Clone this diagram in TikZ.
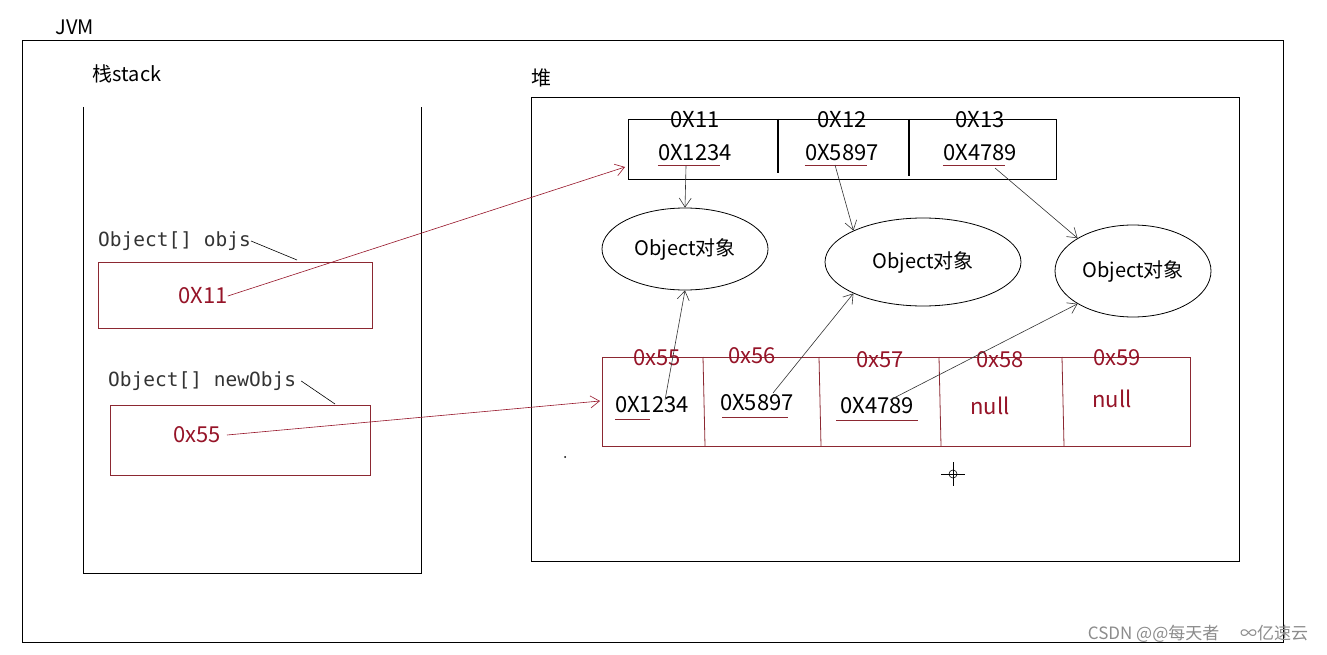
\documentclass[tikz,border=0pt]{standalone}
\usepackage{fontspec}
\setmainfont{Noto Sans CJK SC}
\newfontfamily\codefont{DejaVu Sans Mono}
\usetikzlibrary{arrows.meta,shapes.geometric}
\definecolor{darkred}{RGB}{150,20,40}
\definecolor{boxred}{RGB}{140,40,50}
\begin{document}
\begin{tikzpicture}[x=1pt,y=-1pt,
  txt/.style={inner sep=0pt,font=\fontsize{22}{26}\selectfont},
  red txt/.style={txt,text=darkred},
  code/.style={inner sep=0pt,anchor=west,font=\codefont\fontsize{19.5}{22}\selectfont,text=black!80},
  obj/.style={draw,ellipse,line width=0.8pt,font=\fontsize{20}{24}\selectfont},
  ptr/.style={-{Straight Barb[length=9pt,width=12pt]},line width=0.6pt},
  ul/.style={boxred,line width=0.8pt}]
\useasboundingbox (0,0) rectangle (1327,655);
\fill[white] (0,0) rectangle (1327,655);
%JVM frame
\draw[line width=0.8pt] (22,40) rectangle (1283,642);
\node[txt,font=\fontsize{20}{24}\selectfont] (jvm) at (75,27) {JVM};
%stack
\node[txt,font=\fontsize{20}{24}\selectfont] (stacklbl) at (127,74) {栈stack};
\draw[line width=0.8pt] (83,107) -- (83,573) -- (421,573) -- (421,107);
\draw[boxred,line width=0.9pt] (98,262) rectangle (372,328);
\draw[boxred,line width=0.9pt] (110,405) rectangle (370,475);
\node[code] (objs) at (98,241) {Object[] objs};
\node[code] (newobjs) at (108,381) {Object[] newObjs};
\draw[line width=0.6pt] (objs.east) -- (297,260);
\draw[line width=0.6pt] (newobjs.east) ++(5,0) -- (335,404);
\node[red txt] (p1) at (203,296) {0X11};
\node[red txt] (p2) at (197,435) {0x55};
%heap
\node[txt,font=\fontsize{20}{24}\selectfont] (heaplbl) at (541,78) {堆};
\draw[line width=0.8pt] (531,97) rectangle (1239,561);
%objs array
\draw[line width=0.8pt] (628,119) rectangle (1056,179);
\draw[line width=1.5pt] (778,119) -- (778,173);
\draw[line width=1.2pt] (909,119) -- (909,176);
\foreach \name/\x/\addr/\val in {a1/695/0X11/0X1234,a2/842/0X12/0X5897,a3/980/0X13/0X4789}{
  \node[txt] (h\name) at (\x,120) {\addr};
  \node[txt] (\name) at (\x,153) {\val};
  \draw[ul] (\name.south west) ++(0,4) -- ++(62,0);
}
%objects
\node[obj,minimum width=166pt,minimum height=82pt] (o1) at (685,249) {Object对象};
\node[obj,minimum width=196pt,minimum height=88pt] (o2) at (923,262) {Object对象};
\node[obj,minimum width=156pt,minimum height=92pt] (o3) at (1133,271) {Object对象};
%newObjs array
\draw[boxred,line width=0.9pt] (602,357) rectangle (1190,446);
\foreach \x in {703,819,939,1062}
  \draw[boxred,line width=0.8pt] (\x,357) -- (\x+2,446);
\foreach \name/\x/\y/\addr in {b1/657/358/0x55,b2/752/356/0x56,b3/880/360/0x57,b4/1000/360/0x58,b5/1117/358/0x59}
  \node[red txt] (h\name) at (\x,\y) {\addr};
\node[txt] (b1) at (652,405) {0X1234};
\node[txt] (b2) at (757,403) {0X5897};
\node[txt] (b3) at (877,406) {0X4789};
\node[red txt] (b4) at (990,406) {null};
\node[red txt] (b5) at (1112,399) {null};
\draw[ul] (615,419) -- (650,419);
\draw[ul] (722,417) -- (788,417);
\draw[ul] (836,420) -- (918,420);
%references
\coordinate (t1) at (625,167);
\coordinate (t2) at (600,401);
\draw[ptr,darkred] (p1.east) -- (t1);
\draw[ptr,darkred] (p2.east) ++(6,0) -- (t2);
\draw[ptr,black!80] (686,166) -- (o1.north);
\draw[ptr,black!80] (835,165) -- (o2.north west);
\draw[ptr,black!80] (995,168) -- (o3.north west);
\draw[ptr,black!80] (665,400) -- (o1.south);
\draw[ptr,black!80] (773,393) -- (o2.south west);
\draw[ptr,black!80] (890,400) -- (o3.south west);
%cursor
\draw[line width=0.6pt] (941,474) -- (965,474) (953,462) -- (953,486);
\draw[line width=0.6pt] (953,474) circle (4pt);
\fill (565,457) circle (1pt);
%watermark
\node[inner sep=0pt,text=black!45,font=\fontsize{17}{20}\selectfont] (wm) at (1198,634) {CSDN @@每天者 \quad ∞亿速云};
\end{tikzpicture}
\end{document}
